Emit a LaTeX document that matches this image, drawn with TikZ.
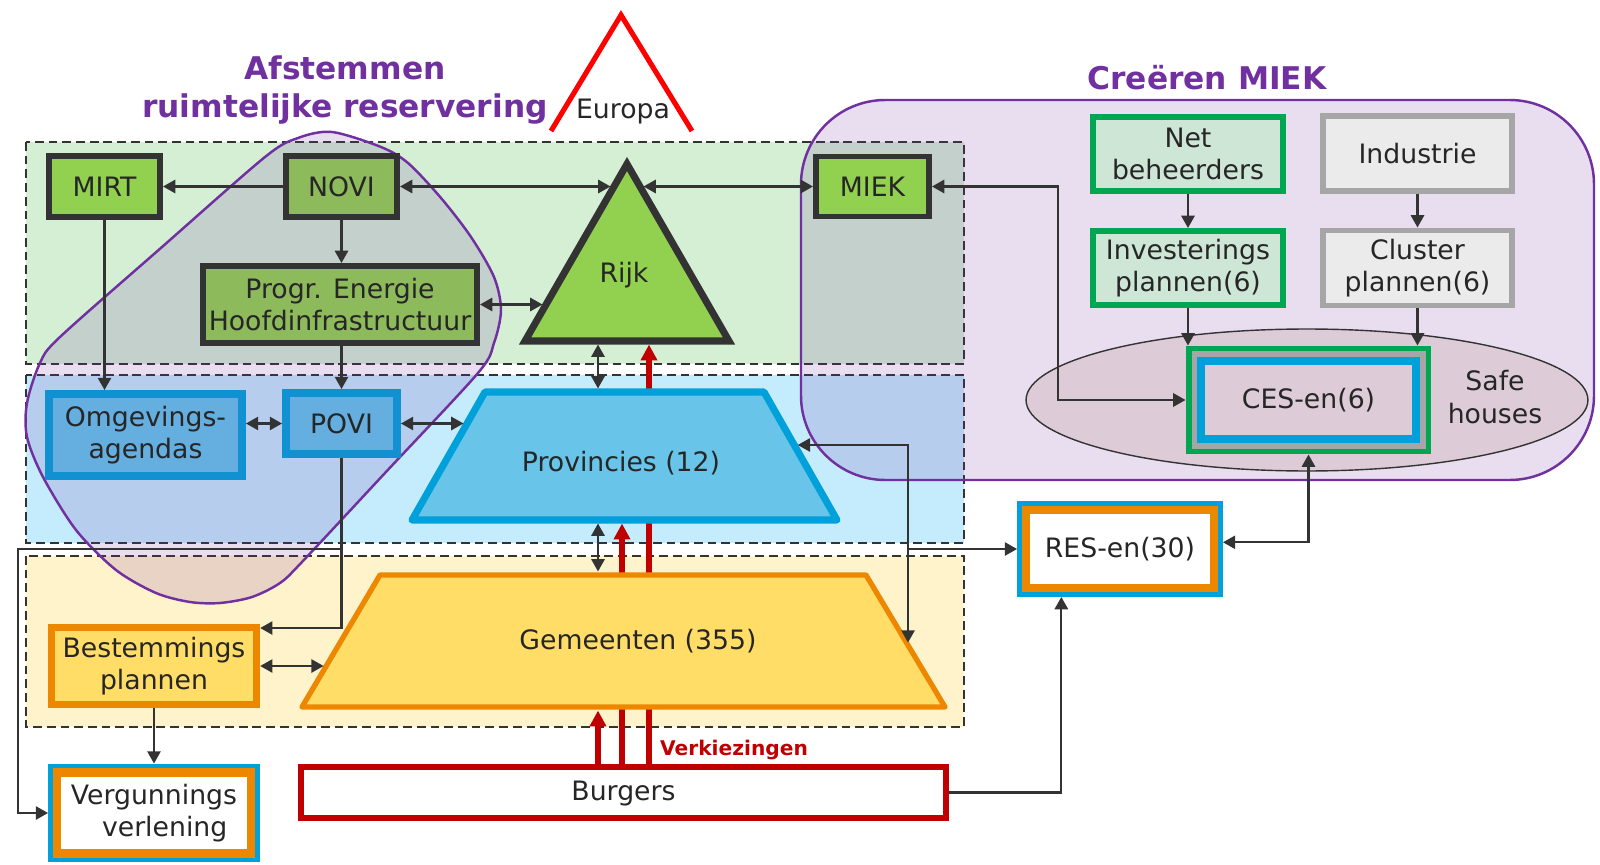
\documentclass[tikz,border=0pt]{standalone}
\usepackage{fontspec}
\setmainfont{DejaVu Sans}
\usetikzlibrary{arrows.meta,calc}

\definecolor{lijn}{HTML}{333333}
\definecolor{tekst}{HTML}{262626}
\definecolor{paars}{HTML}{7030A0}
\definecolor{rood}{HTML}{C00000}
\definecolor{groenband}{HTML}{D5EFD5}
\definecolor{blauwband}{HTML}{C5ECFC}
\definecolor{geelband}{HTML}{FFF3CC}
\definecolor{rijkgroen}{HTML}{92D050}
\definecolor{novigroen}{HTML}{8DBA5B}
\definecolor{povblauw}{HTML}{65AEE0}
\definecolor{povrand}{HTML}{1190D2}
\definecolor{provblauw}{HTML}{68C4E9}
\definecolor{cyaan}{HTML}{00A0DB}
\definecolor{geel}{HTML}{FFDD66}
\definecolor{oranje}{HTML}{EE8700}
\definecolor{netgroen}{HTML}{00A651}
\definecolor{netvul}{HTML}{CDE6D6}
\definecolor{grijs}{HTML}{A6A6A6}
\definecolor{grijsvul}{HTML}{EBEBEB}
\definecolor{roze}{HTML}{DDCCD8}

\tikzset{
  every node/.style={text=tekst, inner sep=0pt, align=center, font=\fontsize{15.2}{18.5}\selectfont},
  band/.style={draw=lijn, line width=0.9pt, dash pattern=on 5pt off 2.8pt},
  gebied/.style={draw=paars, line width=1.4pt, fill=paars, fill opacity=0.16},
  donker/.style={draw=lijn, line width=3.4pt},
  blauwbox/.style={draw=povrand, line width=4.5pt, fill=povblauw},
  groenbox/.style={draw=netgroen, line width=3.4pt, fill=netvul},
  grijsbox/.style={draw=grijs, line width=3.4pt, fill=grijsvul},
  dubbel/.style={draw=cyaan, line width=2.8pt, fill=white,
    path picture={\draw[oranje, line width=12pt] (path picture bounding box.south west) rectangle (path picture bounding box.north east);}},
  arr/.style={draw=lijn, line width=1.3pt, -{Triangle[length=7pt,width=7.5pt]}},
  darr/.style={arr, {Triangle[length=7pt,width=7.5pt]}-{Triangle[length=7pt,width=7.5pt]}},
  roodpijl/.style={draw=rood, line width=3.2pt, shorten >=2pt, -{Triangle[length=9pt,width=9pt]}},
  titel/.style={text=paars, font=\bfseries\fontsize{17.8}{21.5}\selectfont},
}

\begin{document}
\begin{tikzpicture}[x=0.02cm, y=-0.02cm]
\useasboundingbox (0,0) rectangle (1600,865);

\draw[band, fill=groenband] (26,142) rectangle (964,364);
\draw[band, fill=blauwband] (26,375) rectangle (964,543);
\draw[band, fill=geelband] (26,556) rectangle (964,727);

\draw[gebied] plot[smooth cycle] coordinates {(332,132) (381,147) (408,163) (441,198) (471,237) (494,277) (501,310) (494,343) (478,373) (385,473) (302,562) (280,583) (252,597) (220,603) (190,602) (156,593) (116,570) (76,530) (43,477) (27,437) (27,403) (40,363) (60,337) (162,247) (265,157) (298,138)};
\draw[gebied, rounded corners=48pt] (801,100) rectangle (1594,480);
\draw[draw=lijn, line width=0.8pt, fill=roze] (1307,400) ellipse [x radius=5.62cm, y radius=1.42cm];

\node[titel] (afstemmen) at (345,90) {Afstemmen\\ruimtelijke reservering};
\node[titel] (creeren) at (1207,78) {Creëren MIEK};
\draw[draw=red, line width=2.9pt] (551,131) -- (621,15) -- (692,131);
\node (europa) at (623,112) {Europa};

\coordinate (rT) at (627,164);
\coordinate (rL) at (525,341);
\coordinate (rR) at (729,341);
\coordinate (pTL) at (485,392);
\coordinate (pTR) at (764,392);
\coordinate (pBL) at (412,520);
\coordinate (pBR) at (837,520);
\coordinate (gTL) at (380,575);
\coordinate (gTR) at (866,575);
\coordinate (gBL) at (302,707);
\coordinate (gBR) at (945,707);
\coordinate (vA) at (598,0);
\coordinate (vB) at (622,0);
\coordinate (vC) at (649,0);

\node[draw=rood, line width=3.4pt, fill=white, minimum width=12.9cm, minimum height=1.02cm, text height=0.95em, text depth=0pt] (burgers) at (623.5,792.5) {Burgers};
\draw[roodpijl] (vC |- burgers.north) -- (vC |- rL);
\draw[roodpijl] (vB |- burgers.north) -- (vB |- pBL);
\draw[roodpijl] (vA |- burgers.north) -- (vA |- gBL);

\draw[draw=lijn, line width=4pt, fill=rijkgroen] (rT) -- (rL) -- (rR) -- cycle;
\draw[draw=cyaan, line width=4pt, fill=provblauw, line join=round] (pTL) -- (pTR) -- (pBR) -- (pBL) -- cycle;
\draw[draw=oranje, line width=3pt, fill=geel, line join=round] (gTL) -- (gTR) -- (gBR) -- (gBL) -- cycle;
\node (rijk) at (624,275) {Rijk};
\node (prov) at (621,463) {Provincies (12)};
\node (gem) at (638,641) {Gemeenten (355)};

\node[donker, fill=rijkgroen, minimum width=2.22cm, minimum height=1.22cm] (mirt) at (104.5,186.5) {MIRT};
\node[donker, fill=novigroen, minimum width=2.22cm, minimum height=1.22cm] (novi) at (341.5,186.5) {NOVI};
\node[donker, fill=rijkgroen, minimum width=2.26cm, minimum height=1.2cm] (miek) at (872.5,186.5) {MIEK};
\node[donker, fill=novigroen, minimum width=5.48cm, minimum height=1.54cm] (progr) at (340,304.5) {Progr. Energie\\Hoofdinfrastructuur};
\node[blauwbox, minimum width=3.86cm, minimum height=1.64cm] (omg) at (145.5,435) {Omgevings-\\agendas};
\node[blauwbox, minimum width=2.22cm, minimum height=1.22cm] (povi) at (341.5,423.5) {POVI};
\node[draw=oranje, line width=4.2pt, fill=geel, minimum width=4.1cm, minimum height=1.54cm] (best) at (154,666) {Bestemmings\\plannen};
\node[dubbel, minimum width=4.14cm, minimum height=1.88cm] (verg) at (154,813) {Vergunnings\\\hspace*{0.8em}verlening};
\node[dubbel, minimum width=4.02cm, minimum height=1.82cm] (res) at (1120,549) {RES-en(30)};
\node[groenbox, minimum width=3.8cm, minimum height=1.48cm] (net) at (1188,154) {Net\\beheerders};
\node[grijsbox, minimum width=3.78cm, minimum height=1.5cm] (ind) at (1417.5,153.5) {Industrie};
\node[groenbox, minimum width=3.8cm, minimum height=1.48cm] (inv) at (1188,268) {Investerings\\plannen(6)};
\node[grijsbox, minimum width=3.78cm, minimum height=1.5cm] (clu) at (1417.5,268) {Cluster\\plannen(6)};
\node[draw=netgroen, line width=3.4pt, fill=grijs, minimum width=4.8cm, minimum height=2.06cm] (ces) at (1308.5,400) {};
\node[draw=cyaan, line width=4.5pt, fill=roze, minimum width=4.3cm, minimum height=1.56cm] (cesin) at (1308.5,400) {CES-en(6)};
\node (safe) at (1495,397) {Safe\\houses};

\coordinate (rjA) at ($(rT)!0.127!(rL)$);
\coordinate (rjB) at ($(rT)!0.127!(rR)$);
\coordinate (rjC) at ($(rT)!0.794!(rL)$);
\coordinate (pA) at ($(pTL)!0.246!(pBL)$);
\coordinate (pB) at ($(pTR)!0.414!(pBR)$);
\coordinate (gA) at ($(gTR)!0.532!(gBR)$);
\coordinate (gB) at ($(gTL)!0.689!(gBL)$);
\coordinate (bA) at ($(best.north east)!0.05!(best.south east)$);
\coordinate (rA) at ($(res.south west)!0.215!(res.south east)$);
\coordinate (rB) at ($(res.north east)!0.43!(res.south east)$);
\coordinate (lft) at (18,549);
\coordinate (mk) at (1058,0);

\draw[arr] (novi.west) -- (mirt.east);
\draw[darr, shorten >=2pt] (novi.east) -- (novi.east -| rjA);
\draw[darr, shorten <=2pt] (miek.west -| rjB) -- (miek.west);
\draw[arr] (novi.south) -- (novi.south |- progr.north);
\draw[darr, shorten >=2pt] (progr.east) -- (progr.east -| rjC);
\draw[arr] (mirt.south) -- (mirt.south |- omg.north);
\draw[arr] (povi.north |- progr.south) -- (povi.north);
\draw[darr] (omg.east |- povi.west) -- (povi.west);
\draw[darr, shorten >=2pt] (povi.east) -- (povi.east -| pA);
\draw[darr, shorten <=2pt, shorten >=2pt] (vA |- rL) -- (vA |- pTL);
\draw[darr, shorten <=2pt, shorten >=2pt] (vA |- pBL) -- (vA |- gTL);
\draw[darr, shorten <=2pt, shorten >=1.5pt] (pB) -| (gA);
\draw[arr] (gA |- res.west) -- (res.west);
\draw[arr] (povi.south) |- (bA);
\draw[arr] (povi.south |- lft) -- (lft) |- (verg.west);
\draw[darr, shorten >=1.5pt] (best.east) -- (best.east -| gB);
\draw[arr] (best.south) -- (verg.north);
\draw[arr] (burgers.east) -| (rA);
\draw[darr] (rB) -| (ces.south);
\draw[darr] (ces.west) -| (mk |- miek.east) -- (miek.east);
\draw[arr] (net.south) -- (inv.north);
\draw[arr] (ind.south) -- (clu.north);
\draw[arr] (inv.south) -- (inv.south |- ces.north);
\draw[arr] (clu.south) -- (clu.south |- ces.north);

\node[text=rood, font=\bfseries\fontsize{11.5}{14}\selectfont] (verkiezingen) at (734,750) {Verkiezingen};
\end{tikzpicture}
\end{document}
